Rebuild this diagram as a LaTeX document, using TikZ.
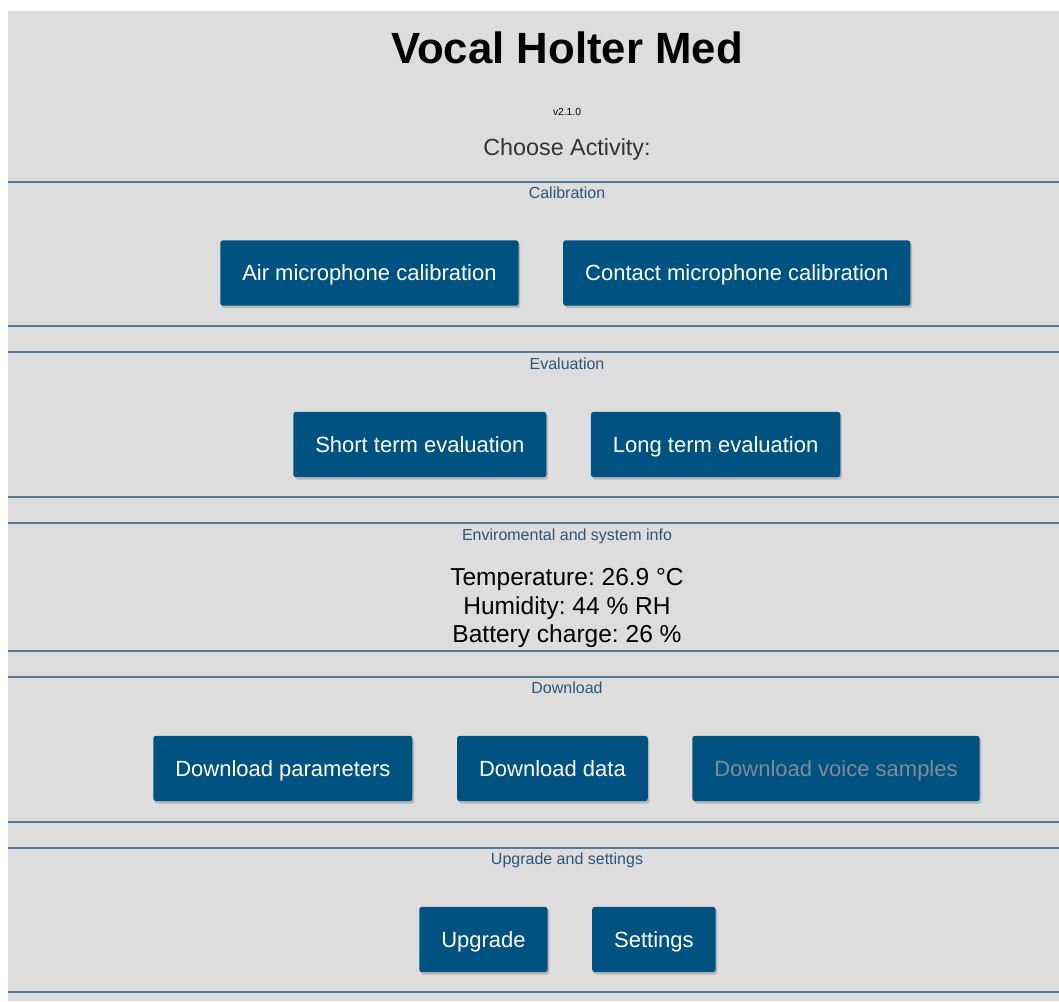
\documentclass[tikz,border=0pt]{standalone}
\usepackage{fontspec}
\setmainfont{Liberation Sans}
\frenchspacing
\usetikzlibrary{positioning, shadows}
\definecolor{pagegray}{RGB}{221,221,221}
\definecolor{btnblue}{RGB}{0,82,128}
\definecolor{rulecol}{RGB}{88,122,148}
\definecolor{secblue}{RGB}{45,85,120}
\definecolor{offtext}{RGB}{128,140,152}

\begin{document}
\begin{tikzpicture}[x=0.75pt, y=-0.75pt,
     node distance = 4mm and 33pt,
        btn/.style = {rectangle, rounded corners=2pt, fill=btnblue, text=white,
                      inner xsep=16.5pt, minimum height=49pt,
                      text height=11.9pt, text depth=0pt,
                      font=\fontsize{16.5pt}{19pt}\selectfont,
                      drop shadow={shadow xshift=1.2pt, shadow yshift=-1.8pt, opacity=0.4}},
       sect/.style = {anchor=base, text=secblue, font=\fontsize{12pt}{14pt}\selectfont},
       info/.style = {anchor=base, font=\fontsize{18.4pt}{21pt}\selectfont}
                        ]
\useasboundingbox (0,0) rectangle (1059,1001);
\fill[pagegray] (8,11) rectangle (1059,1001);
\foreach \yy in {182,326,352,497,523,651,677,822,848,992}
    \draw[rulecol, line width=1.8pt] (8,\yy) -- (1059,\yy);
% header
\node (title) [anchor=base, font=\bfseries\fontsize{32.8pt}{36pt}\selectfont] at (567,63) {Vocal Holter Med};
\node (version) [anchor=base, font=\fontsize{7.7pt}{9pt}\selectfont] at (567,115) {v2.1.0};
\node (choose) [anchor=base, text=black!80, font=\fontsize{17.5pt}{20pt}\selectfont] at (567,155) {Choose Activity:};
% calibration
\node (calib) [sect] at (567,198) {Calibration};
\node (airmic) [btn, anchor=west] at (220,273) {Air microphone calibration};
\node (contmic) [btn, right=of airmic] {Contact microphone calibration};
% evaluation
\node (eval) [sect] at (567,369) {Evaluation};
\node (shortev) [btn, anchor=west] at (293,444.5) {Short term evaluation};
\node (longev) [btn, right=of shortev] {Long term evaluation};
% info
\node (envinfo) [sect] at (567,540) {Enviromental and system info};
\node (temp) [info] at (567,585) {Temperature: 26.9 °C};
\node (humid) [info] at (567,614) {Humidity: 44 \% RH};
\node (batt) [info] at (567,642) {Battery charge: 26 \%};
% download
\node (dload) [sect] at (567,693) {Download};
\node (dlparam) [btn, anchor=west] at (153,768.5) {Download parameters};
\node (dldata) [btn, right=of dlparam] {Download data};
\node (dlvoice) [btn, right=of dldata, text=offtext] {Download voice samples};
% upgrade and settings
\node (upset) [sect] at (567,864) {Upgrade and settings};
\node (upgrade) [btn, anchor=west] at (419,939.5) {Upgrade};
\node (settings) [btn, right=of upgrade] {Settings};
\end{tikzpicture}
\end{document}
